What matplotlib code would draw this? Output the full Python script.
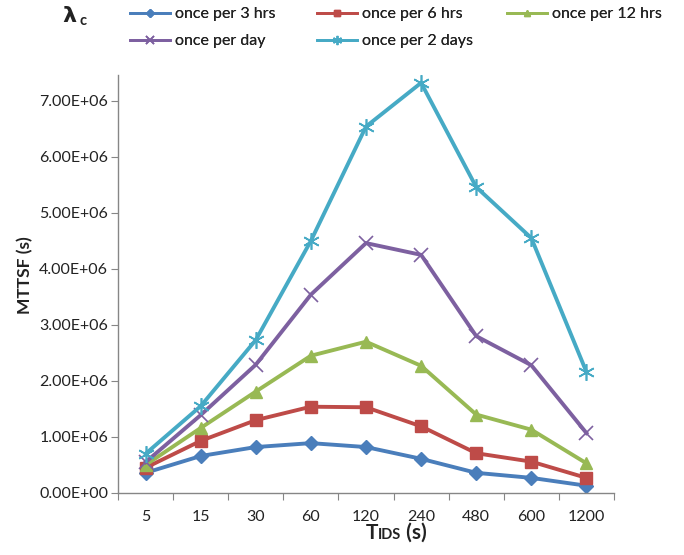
import matplotlib
matplotlib.use("Agg")
import matplotlib.pyplot as plt
from matplotlib.offsetbox import TextArea, HPacker, AnchoredOffsetbox

plt.rcParams['font.family'] = ['Lato', 'DejaVu Sans']

categories = ["5", "15", "30", "60", "120", "240", "480", "600", "1200"]
once_3hrs = [0.36e6, 0.66e6, 0.82e6, 0.89e6, 0.82e6, 0.61e6, 0.36e6, 0.27e6, 0.13e6]
once_6hrs = [0.45e6, 0.93e6, 1.30e6, 1.54e6, 1.53e6, 1.19e6, 0.71e6, 0.56e6, 0.27e6]
once_12hrs = [0.50e6, 1.16e6, 1.81e6, 2.45e6, 2.70e6, 2.27e6, 1.40e6, 1.13e6, 0.53e6]
once_day = [0.55e6, 1.39e6, 2.29e6, 3.54e6, 4.46e6, 4.25e6, 2.80e6, 2.28e6, 1.07e6]
once_2days = [0.70e6, 1.55e6, 2.73e6, 4.50e6, 6.54e6, 7.32e6, 5.46e6, 4.55e6, 2.16e6]
series_labels = ["once per 3 hrs", "once per 6 hrs", "once per 12 hrs", "once per day", "once per 2 days"]
y_ticks = [0, 1e6, 2e6, 3e6, 4e6, 5e6, 6e6, 7e6]
y_tick_labels = ["0.00E+00", "1.00E+06", "2.00E+06", "3.00E+06", "4.00E+06", "5.00E+06", "6.00E+06", "7.00E+06"]

colors = ["#4A7EBB", "#BE4B48", "#98B954", "#7D60A0", "#46AAC5"]
markers = ["D", "s", "^", "x", (6, 2, 0)]
msizes = [7, 9, 9, 10, 12]
txt = "#222222"

W, H = 684, 555
fig = plt.figure(figsize=(W/100, H/100), dpi=100)
ax = fig.add_axes([118/W, 62/H, (614-118)/W, (493-75)/H])

x = list(range(len(categories)))
handles = []
for vals, lab, c, m, ms in zip([once_3hrs, once_6hrs, once_12hrs, once_day, once_2days],
                               series_labels, colors, markers, msizes):
    h, = ax.plot(x, vals, color=c, lw=2.8, marker=m, markersize=ms,
                 markeredgewidth=1.2 if m in ("x", (6, 2, 0)) else 1.0,
                 markeredgecolor=c, label=lab, solid_joinstyle='miter')
    handles.append(h)

ax.set_xlim(-0.5, len(categories) - 0.5)
ax.set_ylim(0, 7.46e6)
ax.set_xticks([i - 0.5 for i in range(len(categories) + 1)])
ax.set_xticklabels([])
ax.set_xticks(x, minor=True)
ax.set_xticklabels(categories, minor=True, fontsize=11.5, color=txt)
ax.tick_params(axis='x', which='minor', length=0, pad=12)
ax.tick_params(axis='x', which='major', length=5, direction='out', color="#868686")
ax.set_yticks(y_ticks)
ax.set_yticklabels(y_tick_labels, fontsize=11.5, color=txt)
ax.tick_params(axis='y', length=5, direction='out', color="#868686", pad=2)

for s in ["top", "right"]:
    ax.spines[s].set_visible(False)
for s in ["left", "bottom"]:
    ax.spines[s].set_color("#868686")
    ax.spines[s].set_linewidth(1.0)

fig.text(25/W, 1 - 275/H, "MTTSF (s)", rotation=90, fontsize=12.5, fontweight='bold',
         color=txt, ha='center', va='center')

# x-axis label with small-caps style subscript
ta1 = TextArea("T", textprops=dict(fontsize=15, fontweight='bold', color=txt))
ta2 = TextArea("IDS", textprops=dict(fontsize=10.5, fontweight='bold', color=txt))
ta3 = TextArea(" (s)", textprops=dict(fontsize=15, fontweight='bold', color=txt))
box = HPacker(children=[ta1, ta2, ta3], align="baseline", pad=0, sep=0)
ab = AnchoredOffsetbox(loc='center', child=box, frameon=False,
                       bbox_to_anchor=(396/W, 1 - 533/H), bbox_transform=fig.transFigure,
                       pad=0, borderpad=0)
fig.add_artist(ab)

# legend: three columns placed like the reference, row-wise order
columns = [[0, 3], [1, 4], [2]]
col_x = [130, 317, 507]
for idxs, cx in zip(columns, col_x):
    lg = fig.legend([handles[i] for i in idxs], [series_labels[i] for i in idxs],
                    loc='upper left', bbox_to_anchor=(cx/W, 1 - 7/H), frameon=False,
                    fontsize=11.5, handlelength=2.5, handletextpad=0.3, labelspacing=0.8,
                    markerscale=0.55, borderpad=0, borderaxespad=0)
    for t in lg.get_texts():
        t.set_color(txt)
    for ln in lg.get_lines():
        ln.set_linewidth(2.0)
    fig.add_artist(lg)

fig.text(62/W, 1 - 16/H, r"$\mathbf{\lambda}$", fontsize=16, ha='left', va='center', color=txt)
fig.text(79/W, 1 - 21/H, "c", fontsize=10.5, fontweight='bold', ha='left', va='center', color=txt)

fig.savefig("out.png", dpi=100)
